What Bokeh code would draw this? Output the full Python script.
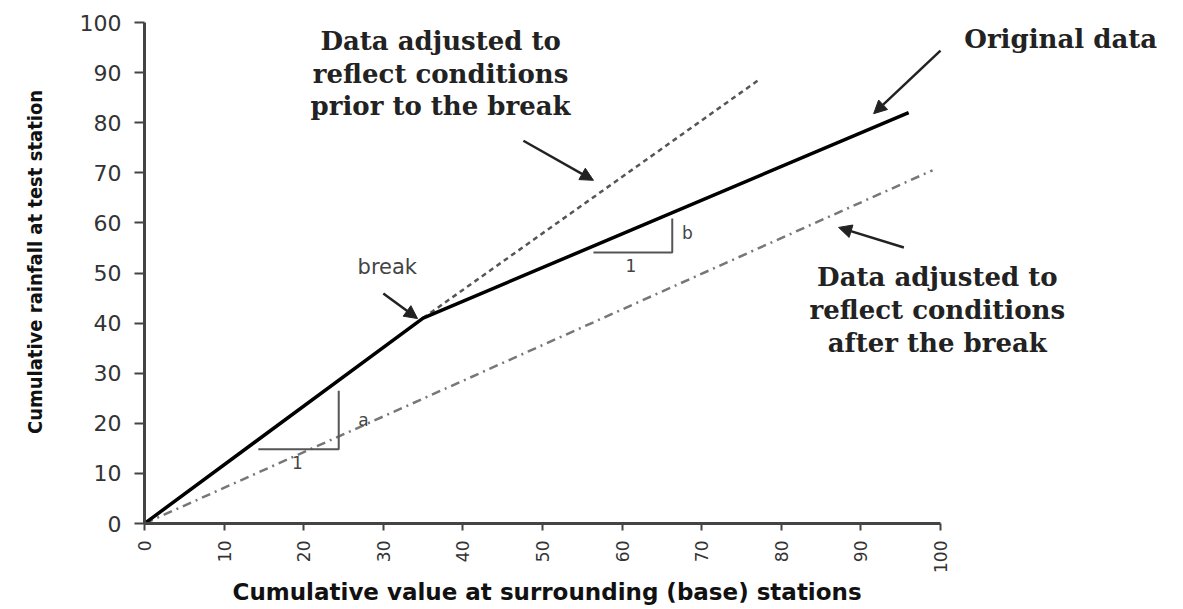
import math
from bokeh.plotting import figure
from bokeh.models import Range1d, FixedTicker, Label, Arrow, NormalHead, Title
from bokeh.embed import file_html
from bokeh.resources import INLINE

# ---- data ----
x_ticks = [0, 10, 20, 30, 40, 50, 60, 70, 80, 90, 100]
y_ticks = [0, 10, 20, 30, 40, 50, 60, 70, 80, 90, 100]

original_x = [0, 35, 96]
original_y = [0, 41, 82]

prior_x = [35, 77.4]
prior_y = [41, 88.8]

after_x = [0, 99]
after_y = [0, 70.5]

tri_a_x = [14.3, 24.4, 24.4]
tri_a_y = [14.8, 14.8, 26.5]
tri_b_x = [56.4, 66.3, 66.3]
tri_b_y = [54.1, 54.1, 60.9]

x_title = "Cumulative value at surrounding (base) stations"
y_title = "Cumulative rainfall at test station"

# ---- figure ----
W, H = 1182, 608
p = figure(width=W, height=H, output_backend="svg", toolbar_location=None,
           x_range=Range1d(0, (W - 144) / 7.96), y_range=Range1d(0, 523 / 5.01),
           min_border_left=144, min_border_right=0, min_border_top=0, min_border_bottom=H - 523)
p.outline_line_color = None
p.grid.visible = False
p.background_fill_color = "white"
p.border_fill_color = "white"

for ax in (p.xaxis[0], p.yaxis[0]):
    ax.bounds = (0, 100)
    ax.axis_line_color = "#444444"
    ax.axis_line_width = 3
    ax.major_tick_line_color = "#444444"
    ax.major_tick_line_width = 2
    ax.major_tick_in = 0
    ax.minor_tick_line_color = None
    ax.major_label_text_color = "#333333"

p.xaxis[0].ticker = FixedTicker(ticks=x_ticks)
p.yaxis[0].ticker = FixedTicker(ticks=y_ticks)

p.xaxis[0].major_tick_out = 7
p.xaxis[0].major_label_orientation = math.pi / 2
p.xaxis[0].major_label_text_font = "DejaVu Sans"
p.xaxis[0].major_label_text_font_size = "17px"
p.xaxis[0].major_label_standoff = 10

p.add_layout(Title(text=x_title, align="left", offset=88, text_font="DejaVu Sans",
                   text_font_size="23px", text_font_style="bold", text_color="#111111",
                   standoff=3), "below")

p.yaxis[0].major_tick_out = 10
p.yaxis[0].major_label_text_font = "DejaVu Sans"
p.yaxis[0].major_label_text_font_size = "22px"
p.yaxis[0].major_label_standoff = 13
p.yaxis[0].axis_label = y_title
p.yaxis[0].axis_label_text_color = "#111111"
p.yaxis[0].axis_label_text_font_style = "bold"
p.yaxis[0].axis_label_text_font = "Liberation Sans Narrow, DejaVu Sans Condensed, sans-serif"
p.yaxis[0].axis_label_text_font_size = "20px"
p.yaxis[0].axis_label_standoff = 30

# ---- lines ----
p.line(after_x, after_y, line_color="#777777", line_width=2.5, line_dash="9 5 2 5")
p.line(prior_x, prior_y, line_color="#555555", line_width=2.5, line_dash="5 4")
p.line(original_x, original_y, line_color="black", line_width=3.5)
p.line(tri_a_x, tri_a_y, line_color="#555555", line_width=2)
p.line(tri_b_x, tri_b_y, line_color="#555555", line_width=2)

# ---- annotations ----
serif = "DejaVu Serif"
def add_label(x, y, text, font, size, color="#222222", style="bold"):
    p.add_layout(Label(x=x, y=y, text=text, text_font=font, text_font_size=size,
                       text_font_style=style, text_color=color,
                       text_align="center", text_baseline="middle"))

for yy, t in zip([96.4, 89.8, 83.4], ["Data adjusted to", "reflect conditions", "prior to the break"]):
    add_label(37.2, yy, t, serif, "26px")
for yy, t in zip([49.3, 42.7, 36.1], ["Data adjusted to", "reflect conditions", "after the break"]):
    add_label(99.6, yy, t, serif, "26px")
add_label(115.1, 96.8, "Original data", serif, "26px")
add_label(30.5, 51.1, "break", "DejaVu Sans", "21px", color="#444444", style="normal")
add_label(27.5, 20.6, "a", "DejaVu Sans", "17px", color="#444444", style="normal")
add_label(19.2, 12.2, "1", "DejaVu Sans", "17px", color="#444444", style="normal")
add_label(68.2, 57.9, "b", "DejaVu Sans", "17px", color="#444444", style="normal")
add_label(61.1, 51.5, "1", "DejaVu Sans", "17px", color="#444444", style="normal")

def add_arrow(x0, y0, x1, y1):
    p.add_layout(Arrow(x_start=x0, y_start=y0, x_end=x1, y_end=y1,
                       line_color="#222222", line_width=2.5,
                       end=NormalHead(size=13, fill_color="#222222", line_color="#222222")))

add_arrow(47.6, 76.4, 56.4, 68.5)
add_arrow(100.0, 94.4, 91.6, 81.8)
add_arrow(95.4, 55.1, 87.2, 59.1)
add_arrow(30.0, 45.9, 34.3, 40.9)

open("out.html", "w").write(file_html(p, INLINE))
